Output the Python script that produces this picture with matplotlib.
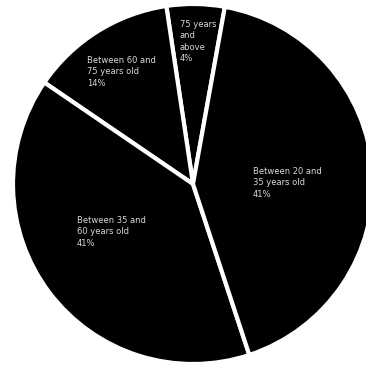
import matplotlib
matplotlib.use("Agg")
import matplotlib.pyplot as plt

# age groups, listed counter-clockwise starting from the top-right wedge
groups = ['75 years\nand\nabove', 'Between 60 and\n75 years old',
          'Between 35 and\n60 years old', 'Between 20 and\n35 years old']
shares = [5.2, 13.1, 39.6, 42.1]  # wedge sizes as drawn
pct_labels = ['4%', '14%', '41%', '41%']  # printed labels

# label anchor (left, top) in pixels of the 366x366 image
label_px = [(180, 20), (87, 56), (77, 216), (253, 167)]

W = 366
fig = plt.figure(figsize=(W / 100, W / 100), dpi=100)
ax = fig.add_axes([0, 0, 1, 1])

wedges, _ = ax.pie(shares, startangle=79.8, counterclock=True,
                   colors=['black'] * len(shares),
                   wedgeprops=dict(edgecolor='white', linewidth=3))

# pie centre at (193, 184) px, radius 180 px
cx, cy, r = 193, 184, 180
ax.set_xlim(-cx / r, (W - cx) / r)
ax.set_ylim(-(W - cy) / r, cy / r)
ax.set_aspect('equal')
ax.axis('off')

for g, p, (px, py) in zip(groups, pct_labels, label_px):
    ax.text(px / W, 1 - py / W, g + '\n' + p, transform=ax.transAxes,
            ha='left', va='top', color='#d8d8d8', fontsize=6,
            linespacing=1.35, family='DejaVu Sans')

fig.savefig('out.png', dpi=100, facecolor='white')
